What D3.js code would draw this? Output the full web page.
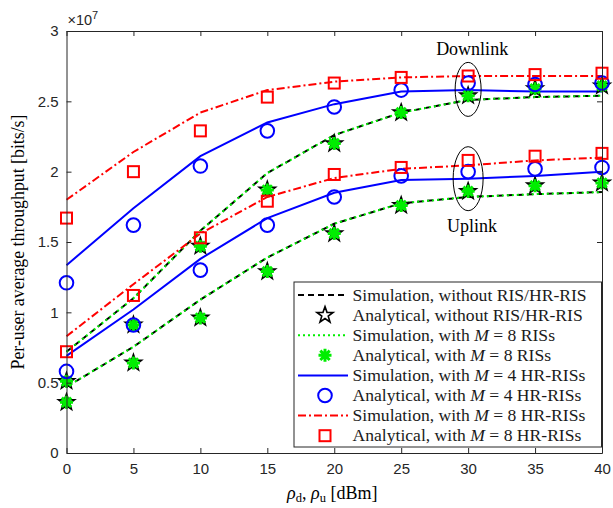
<!DOCTYPE html>
<html>
<head>
<meta charset="utf-8">
<script src="https://cdn.jsdelivr.net/npm/d3@7"></script>
<style>
  body { margin: 0; background: #fff; }
  svg { display: block; }
  .serif { font-family: "Liberation Serif", "DejaVu Serif", serif; }
  .tick text { font-family: "Liberation Sans", Arial, sans-serif; }
</style>
</head>
<body>
<div id="chart"></div>
<script>
// transmit power (dBm)
let rho = [0, 5, 10, 15, 20, 25, 30, 35, 40];

// downlink, x 1e7 bits/s
let simNoRisDL = [0.72, 1.10, 1.58, 1.99, 2.26, 2.42, 2.51, 2.53, 2.54];
let anaNoRisDL = [0.51, 0.91, 1.47, 1.87, 2.20, 2.42, 2.54, 2.59, 2.61];
let simRisDL   = [0.72, 1.10, 1.58, 1.99, 2.26, 2.42, 2.51, 2.53, 2.54];
let anaRisDL   = [0.51, 0.91, 1.47, 1.87, 2.20, 2.42, 2.54, 2.59, 2.61];
let simHr4DL   = [1.335, 1.74, 2.11, 2.35, 2.48, 2.57, 2.58, 2.57, 2.57];
let anaHr4DL   = [1.21, 1.62, 2.04, 2.29, 2.46, 2.58, 2.63, 2.62, 2.63];
let simHr8DL   = [1.80, 2.14, 2.42, 2.58, 2.64, 2.67, 2.68, 2.68, 2.68];
let anaHr8DL   = [1.67, 2.00, 2.29, 2.53, 2.63, 2.67, 2.68, 2.69, 2.70];

// uplink
let simNoRisUL = [0.47, 0.755, 1.09, 1.39, 1.63, 1.775, 1.82, 1.84, 1.855];
let anaNoRisUL = [0.36, 0.64, 0.96, 1.29, 1.56, 1.76, 1.86, 1.90, 1.92];
let simRisUL   = [0.47, 0.755, 1.09, 1.39, 1.63, 1.775, 1.82, 1.84, 1.855];
let anaRisUL   = [0.36, 0.64, 0.96, 1.29, 1.56, 1.76, 1.86, 1.90, 1.92];
let simHr4UL   = [0.69, 1.02, 1.38, 1.67, 1.85, 1.94, 1.95, 1.97, 2.00];
let anaHr4UL   = [0.58, 0.91, 1.30, 1.62, 1.82, 1.97, 2.00, 2.02, 2.03];
let simHr8UL   = [0.83, 1.20, 1.56, 1.82, 1.955, 2.02, 2.045, 2.08, 2.10];
let anaHr8UL   = [0.72, 1.12, 1.53, 1.79, 1.98, 2.03, 2.08, 2.11, 2.13];

let xTicks = [0, 5, 10, 15, 20, 25, 30, 35, 40];
let yTicks = [0, 0.5, 1, 1.5, 2, 2.5, 3];
let yTickLabels = ["0", "0.5", "1", "1.5", "2", "2.5", "3"];

let W = 613, H = 508;
let margin = {top: 31, right: 11, bottom: 55, left: 66.5};
let width = W - margin.left - margin.right,
    height = H - margin.top - margin.bottom;

let axisColor = "#262626";
let green = "#00ee00";

let svg = d3.select("#chart").append("svg")
    .attr("width", W).attr("height", H);
let g = svg.append("g")
    .attr("transform", "translate(" + margin.left + "," + margin.top + ")");

let x = d3.scaleLinear().domain([0, 40]).range([0, width]);
let y = d3.scaleLinear().domain([0, 3]).range([height, 0]);

// styles for each series
let styles = {
    noRis: {color: "black", dash: "6,4", width: 2},
    ris:   {color: green, dash: "2,3", width: 2},
    hr4:   {color: "#0000ff", dash: null, width: 2},
    hr8:   {color: "#ff0000", dash: "8,3,2,3", width: 2}
};

let line = d3.line()
    .x((d, i) => x(rho[i]))
    .y(d => y(d));

function drawLine(vals, st) {
    g.append("path")
        .attr("d", line(vals))
        .attr("fill", "none")
        .attr("stroke", st.color)
        .attr("stroke-width", st.width)
        .attr("stroke-dasharray", st.dash);
}

function starPath(R) {
    let r = R * 0.4, pts = [];
    for (let k = 0; k < 10; k++) {
        let a = -Math.PI / 2 + k * Math.PI / 5;
        let rr = k % 2 === 0 ? R : r;
        pts.push([rr * Math.cos(a), rr * Math.sin(a)]);
    }
    return "M" + pts.map(p => p[0].toFixed(2) + "," + p[1].toFixed(2)).join("L") + "Z";
}

function marker(sel, type) {
    if (type === "star") {
        sel.append("path").attr("d", starPath(8.5))
            .attr("fill", "none").attr("stroke", "black").attr("stroke-width", 1.6);
    } else if (type === "asterisk") {
        let s = 6.5, d = s * 0.72;
        sel.append("path")
            .attr("d", `M${-s},0L${s},0M0,${-s}L0,${s}M${-d},${-d}L${d},${d}M${-d},${d}L${d},${-d}`)
            .attr("stroke", green).attr("stroke-width", 3).attr("fill", "none");
    } else if (type === "circle") {
        sel.append("circle").attr("r", 6.8)
            .attr("fill", "none").attr("stroke", "#0000ff").attr("stroke-width", 2);
    } else if (type === "square") {
        sel.append("rect").attr("x", -5.5).attr("y", -5.5)
            .attr("width", 11).attr("height", 11)
            .attr("fill", "none").attr("stroke", "#ff0000").attr("stroke-width", 2);
    }
}

function drawMarkers(vals, type) {
    vals.forEach((v, i) => {
        let m = g.append("g").attr("transform", "translate(" + x(rho[i]) + "," + y(v) + ")");
        marker(m, type);
    });
}

// lines
[[simNoRisDL, simNoRisUL, "noRis"], [simRisDL, simRisUL, "ris"],
 [simHr4DL, simHr4UL, "hr4"], [simHr8DL, simHr8UL, "hr8"]].forEach(s => {
    drawLine(s[0], styles[s[2]]);
    drawLine(s[1], styles[s[2]]);
});

// markers
drawMarkers(anaNoRisDL, "star"); drawMarkers(anaNoRisUL, "star");
drawMarkers(anaRisDL, "asterisk"); drawMarkers(anaRisUL, "asterisk");
drawMarkers(anaHr4DL, "circle"); drawMarkers(anaHr4UL, "circle");
drawMarkers(anaHr8DL, "square"); drawMarkers(anaHr8UL, "square");

// axes box with inward ticks
let fmt = (d, i) => yTickLabels[i];
g.append("g").attr("transform", "translate(0," + height + ")")
    .call(d3.axisBottom(x).tickValues(xTicks).tickSizeInner(-5).tickSizeOuter(0).tickPadding(10));
g.append("g")
    .call(d3.axisLeft(y).tickValues(yTicks).tickFormat(fmt).tickSizeInner(-5).tickSizeOuter(0).tickPadding(8));
g.append("g")
    .call(d3.axisTop(x).tickValues(xTicks).tickSizeInner(-5).tickSizeOuter(0).tickFormat(""));
g.append("g").attr("transform", "translate(" + width + ",0)")
    .call(d3.axisRight(y).tickValues(yTicks).tickSizeInner(-5).tickSizeOuter(0).tickFormat(""));
g.selectAll(".domain, .tick line").attr("stroke", axisColor).attr("stroke-width", 1);
g.selectAll(".tick text").attr("fill", axisColor).style("font-size", "15px");

// exponent
let ex = svg.append("text").attr("x", margin.left + 1).attr("y", 25)
    .attr("fill", axisColor)
    .style("font-family", "Liberation Sans, Arial, sans-serif").style("font-size", "14.5px");
ex.append("tspan").text("×10");
ex.append("tspan").attr("dy", -6).style("font-size", "11px").text("7");

// axis labels
svg.append("text").attr("class", "serif")
    .attr("transform", "translate(24," + (margin.top + height / 2) + ") rotate(-90)")
    .attr("text-anchor", "middle").style("font-size", "17.8px")
    .text("Per-user average throughput [bits/s]");

let xl = svg.append("text").attr("class", "serif")
    .attr("x", margin.left + width / 2 - 2).attr("y", 499)
    .attr("text-anchor", "middle").style("font-size", "18px");
xl.append("tspan").style("font-style", "italic").text("ρ");
xl.append("tspan").attr("dy", 3).style("font-size", "12.5px").text("d");
xl.append("tspan").attr("dy", -3).text(", ");
xl.append("tspan").style("font-style", "italic").text("ρ");
xl.append("tspan").attr("dy", 3).style("font-size", "12.5px").text("u");
xl.append("tspan").attr("dy", -3).text(" [dBm]");

// annotations
let ellipses = [{x: 30, y: 2.585, rx: 13, ry: 27, label: "Downlink", ly: 55},
                {x: 30, y: 1.95, rx: 15, ry: 32, label: "Uplink", ly: 232}];
ellipses.forEach(e => {
    g.append("ellipse").attr("cx", x(e.x)).attr("cy", y(e.y))
        .attr("rx", e.rx).attr("ry", e.ry)
        .attr("fill", "none").attr("stroke", "black").attr("stroke-width", 1);
    svg.append("text").attr("class", "serif")
        .attr("x", margin.left + x(e.x) + 4).attr("y", e.ly)
        .attr("text-anchor", "middle").style("font-size", "18px")
        .text(e.label);
});

// legend
let legendItems = [
    {st: "noRis", m: null, t: ["Simulation, without RIS/HR-RIS"]},
    {st: null, m: "star", t: ["Analytical, without RIS/HR-RIS"]},
    {st: "ris", m: null, t: ["Simulation, with ", "M", " = 8 RISs"]},
    {st: null, m: "asterisk", t: ["Analytical, with ", "M", " = 8 RISs"]},
    {st: "hr4", m: null, t: ["Simulation, with ", "M", " = 4 HR-RISs"]},
    {st: null, m: "circle", t: ["Analytical, with ", "M", " = 4 HR-RISs"]},
    {st: "hr8", m: null, t: ["Simulation, with ", "M", " = 8 HR-RISs"]},
    {st: null, m: "square", t: ["Analytical, with ", "M", " = 8 HR-RISs"]}
];
let lg = svg.append("g").attr("transform", "translate(294,282)");
lg.append("rect").attr("width", 307.5).attr("height", 165)
    .attr("fill", "white").attr("stroke", axisColor).attr("stroke-width", 1);
legendItems.forEach((it, i) => {
    let yy = 13 + i * 20.1;
    if (it.st) {
        let st = styles[it.st];
        lg.append("line").attr("x1", 4).attr("x2", 54).attr("y1", yy).attr("y2", yy)
            .attr("stroke", st.color).attr("stroke-width", st.width)
            .attr("stroke-dasharray", st.dash);
    } else {
        marker(lg.append("g").attr("transform", "translate(31," + yy + ")"), it.m);
    }
    let tx = lg.append("text").attr("class", "serif").attr("x", 58.5).attr("y", yy + 5.5)
        .style("font-size", "17.6px").attr("fill", "#1a1a1a");
    it.t.forEach((s, k) => {
        let sp = tx.append("tspan").text(s);
        if (k === 1) sp.style("font-style", "italic");
    });
});
</script>
</body>
</html>
